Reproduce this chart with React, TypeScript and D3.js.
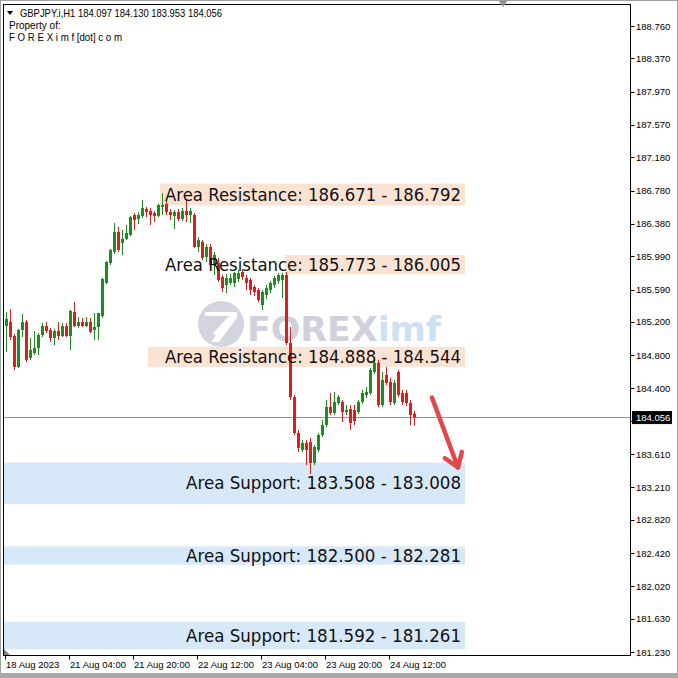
import React from "react";
import * as d3 from "d3";

const opens = [185.151,185.199,185.031,184.658,185.104,185.199,184.767,184.827,184.887,185.043,185.151,185.104,185.007,185.092,185.031,185.151,185.031,185.320,185.151,185.199,185.151,185.199,185.104,185.139,185.272,185.669,185.909,186.042,186.283,186.150,186.198,186.246,186.486,186.438,186.474,186.559,186.535,186.510,186.474,186.583,186.619,186.522,186.474,186.522,186.438,186.535,186.486,186.486,186.102,186.162,185.982,186.102,185.885,185.909,185.741,185.645,185.669,185.669,185.717,185.801,185.729,185.705,185.620,185.584,185.404,185.524,185.584,185.645,185.693,185.705,185.765,184.947,184.297,183.864,183.660,183.744,183.756,183.504,183.660,183.840,183.960,184.177,184.105,184.225,184.237,184.117,184.153,184.141,184.117,184.237,184.321,184.345,184.598,184.707,184.201,184.562,184.478,184.225,184.598,184.345,184.345,184.225,184.097];
const highs = [185.320,185.356,185.055,185.116,185.296,185.223,185.007,185.092,185.067,185.187,185.199,185.128,185.116,185.199,185.187,185.187,185.344,185.440,185.259,185.247,185.259,185.247,185.308,185.310,185.729,185.933,186.078,186.391,186.343,186.307,186.367,186.474,186.510,186.522,186.667,186.583,186.571,186.535,186.619,186.751,186.667,186.559,186.547,186.559,186.571,186.667,186.571,186.510,186.222,186.186,186.138,186.138,186.042,185.970,185.765,185.777,185.777,185.801,185.825,185.837,185.765,185.729,185.645,185.608,185.584,185.645,185.693,185.753,185.789,185.789,185.801,185.139,184.321,183.900,183.780,183.780,183.804,183.720,183.864,184.020,184.261,184.345,184.357,184.321,184.261,184.201,184.201,184.201,184.261,184.381,184.417,184.646,184.755,184.743,184.598,184.658,184.526,184.502,184.622,184.381,184.381,184.261,184.130];
const lows = [184.839,184.983,184.622,184.646,185.019,184.719,184.743,184.803,184.803,185.019,185.067,184.959,184.923,184.983,185.019,185.019,184.863,185.139,185.128,185.139,185.139,185.067,184.983,184.983,185.248,185.657,185.885,186.018,186.042,186.006,186.186,186.234,186.307,186.379,186.450,186.462,186.367,186.402,186.462,186.486,186.486,186.426,186.319,186.414,186.414,186.402,186.391,186.090,186.042,185.945,185.921,185.849,185.765,185.681,185.560,185.548,185.645,185.620,185.681,185.705,185.584,185.524,185.512,185.440,185.344,185.476,185.548,185.608,185.657,185.488,184.923,184.261,183.840,183.636,183.636,183.479,183.371,183.479,183.636,183.816,183.936,184.081,184.081,184.201,183.996,184.081,183.900,183.960,184.093,184.213,184.285,184.321,184.574,184.177,184.177,184.442,184.201,184.201,184.297,184.201,184.189,183.960,183.953];
const closes = [185.235,185.019,184.658,185.104,185.199,184.743,184.863,184.887,185.043,185.151,185.092,185.007,185.092,185.031,185.151,185.031,185.332,185.151,185.199,185.151,185.199,185.080,185.139,185.308,185.717,185.921,186.066,186.283,186.066,186.198,186.270,186.462,186.426,186.486,186.571,186.522,186.486,186.474,186.607,186.607,186.522,186.486,186.522,186.438,186.535,186.486,186.535,186.102,186.186,185.970,186.102,185.885,186.006,185.705,185.608,185.729,185.729,185.789,185.789,185.741,185.669,185.584,185.560,185.464,185.560,185.608,185.669,185.729,185.765,185.765,184.947,184.297,183.864,183.684,183.744,183.660,183.504,183.696,183.840,183.960,184.177,184.105,184.237,184.297,184.117,184.141,183.984,184.008,184.237,184.345,184.357,184.622,184.707,184.201,184.502,184.466,184.237,184.466,184.321,184.237,184.225,184.081,184.056];

const priceTicks = [188.760,188.370,187.970,187.570,187.180,186.780,186.380,185.990,185.590,185.200,184.800,184.400,184.010,183.610,183.210,182.820,182.420,182.020,181.630,181.230];
const timeTickIdx = [0,16,32,48,64,80,96];
const timeTickLabels = ["18 Aug 2023","21 Aug 04:00","21 Aug 20:00","22 Aug 12:00","23 Aug 04:00","23 Aug 20:00","24 Aug 12:00"];

const lastPrice = 184.056;
const zoneLabels = ["Area Resistance: 186.671 - 186.792","Area Resistance: 185.773 - 186.005","Area Resistance: 184.888 - 184.544","Area Support: 183.508 - 183.008","Area Support: 182.500 - 182.281","Area Support: 181.592 - 181.261"];
const zoneTop = [186.865,186.005,184.900,183.508,182.500,181.592];
const zoneBottom = [186.600,185.773,184.660,183.008,182.281,181.261];
const zoneStartIdx = [38.75,70,35.75,-0.25,-0.25,-0.25];
const zoneEndIdx = [115,115,115,115,115,115];
const zoneKind = ["res","res","res","sup","sup","sup"];
const arrowPts: [number, number][] = [[106.75,184.29],[113.25,183.45]];

export default function App() {
  const W = 678, H = 678;
  const x = d3.scaleLinear().domain([0, 102]).range([5, 413]);
  const y = d3.scaleLinear().domain([181.23, 188.76]).range([652, 26]);
  const frameL = 3.5, frameR = 630.5, frameT = 4.5, frameB = 655.5;

  const tip = [x(arrowPts[1][0]), y(arrowPts[1][1])];
  const start = [x(arrowPts[0][0]), y(arrowPts[0][1])];
  const ang = Math.atan2(tip[1] - start[1], tip[0] - start[0]);
  const hl = 16;
  const a1 = [tip[0] - hl * Math.cos(ang - 0.6), tip[1] - hl * Math.sin(ang - 0.6)];
  const a2 = [tip[0] - hl * Math.cos(ang + 0.6), tip[1] - hl * Math.sin(ang + 0.6)];

  return (
    <svg width={W} height={H} style={{ position: "absolute", left: 0, top: 0, background: "#fff" }} fontFamily="'DejaVu Sans', Tahoma, sans-serif">
      <rect x={0} y={0} width={W} height={H} fill="#ffffff" />
      {zoneLabels.map((l, i) => (
        <rect key={"z" + i} x={x(zoneStartIdx[i])} y={y(zoneTop[i])} width={x(zoneEndIdx[i]) - x(zoneStartIdx[i])} height={y(zoneBottom[i]) - y(zoneTop[i])}
          fill={zoneKind[i] === "res" ? "#fbe3d4" : "#d7e8f8"} />
      ))}
      <g opacity={0.9}>
        <circle cx={221} cy={324} r={23} fill="#cfd0da" />
        <path d="M205,316 L231,316 L211,342 L219,342 L237,318 L237,312 L205,312 Z" fill="#ffffff" />
        <path d="M213,333 L233,312 L237,316 L217,337 Z" fill="#ffffff" />
        <text x={247} y={341} fontSize={34} fontWeight="bold" fill="#cdcdd8" textLength={194} lengthAdjust="spacingAndGlyphs">FOREX<tspan fill="#c9def2">imf</tspan></text>
      </g>
      <line x1={frameL} x2={frameR} y1={Math.round(y(lastPrice)) + 0.5} y2={Math.round(y(lastPrice)) + 0.5} stroke="#8a96a0" strokeWidth={1} />
      {opens.map((o, i) => {
        const c = closes[i];
        const up = c >= o;
        const col = up ? "#1e8c1e" : "#dc1e1e";
        const bx = x(i);
        const top = y(Math.max(o, c));
        const bot = y(Math.min(o, c));
        return (
          <g key={"c" + i}>
            <rect x={bx + 1} y={y(highs[i])} width={1} height={Math.max(1, y(lows[i]) - y(highs[i]))} fill={col} />
            <rect x={bx} y={top} width={3} height={Math.max(1, bot - top)} fill={col} />
          </g>
        );
      })}
      {zoneLabels.map((l, i) => (
        <text key={"t" + i} x={461} y={(y(zoneTop[i]) + y(zoneBottom[i])) / 2 + 6} textAnchor="end" fontSize={17} fill="#111" textLength={zoneKind[i] === "res" ? 296 : 275} lengthAdjust="spacingAndGlyphs">{l}</text>
      ))}
      <g stroke="#e2474b" strokeWidth={4.5} strokeLinecap="round" fill="none">
        <line x1={start[0]} y1={start[1]} x2={tip[0]} y2={tip[1]} />
        <polyline points={`${a1[0]},${a1[1]} ${tip[0]},${tip[1]} ${a2[0]},${a2[1]}`} strokeLinejoin="round" />
      </g>
      <rect x={frameL} y={frameT} width={frameR - frameL} height={frameB - frameT} fill="none" stroke="#000" strokeWidth={1} />
      {priceTicks.map((p, i) => (
        <g key={"p" + i}>
          <line x1={frameR} x2={frameR + 4} y1={Math.round(y(p)) + 0.5} y2={Math.round(y(p)) + 0.5} stroke="#000" />
          {Math.abs(p - lastPrice) > 0.1 && (
            <text x={636} y={y(p) + 3.5} fontSize={9.5} fontFamily="'Liberation Sans', Arial, sans-serif" fill="#000">{p.toFixed(3)}</text>
          )}
        </g>
      ))}
      <rect x={632} y={y(lastPrice) - 6} width={40} height={13} fill="#000" />
      <text x={636} y={y(lastPrice) + 3.5} fontSize={9.5} fontFamily="'Liberation Sans', Arial, sans-serif" fill="#fff">{lastPrice.toFixed(3)}</text>
      {timeTickIdx.map((t, i) => (
        <g key={"tt" + i}>
          <line x1={Math.round(x(t)) + 0.5} x2={Math.round(x(t)) + 0.5} y1={frameB} y2={frameB + 4} stroke="#000" />
          <text x={x(t) + 1} y={668} fontSize={9.5} fontFamily="'Liberation Sans', Arial, sans-serif" fill="#000">{timeTickLabels[i]}</text>
        </g>
      ))}
      <path d="M4,649 L4,655 L10,655 Z" fill="#808080" />
      <path d="M498,0 L508,0 L503,7 Z" fill="#909090" />
      <path d="M7,11 L13,11 L10,15 Z" fill="#000" />
      <text x={20} y={17} fontSize={10.5} fontFamily="'Liberation Sans', Arial, sans-serif" fill="#000" textLength={202} lengthAdjust="spacingAndGlyphs">GBPJPY.i,H1  184.097 184.130 183.953 184.056</text>
      <text x={9} y={29} fontSize={10} fontFamily="'Liberation Sans', Arial, sans-serif" fill="#000">Property of:</text>
      <text x={9} y={41} fontSize={10} fontFamily="'Liberation Sans', Arial, sans-serif" fill="#000" textLength={113} lengthAdjust="spacingAndGlyphs">F O R E X i m f [dot] c o m</text>
      <rect x={0.5} y={0.5} width={W - 1} height={H - 1} fill="none" stroke="#a0a0a0" />
      <rect x={0} y={673} width={W} height={5} fill="#a8a8a8" />
    </svg>
  );
}
